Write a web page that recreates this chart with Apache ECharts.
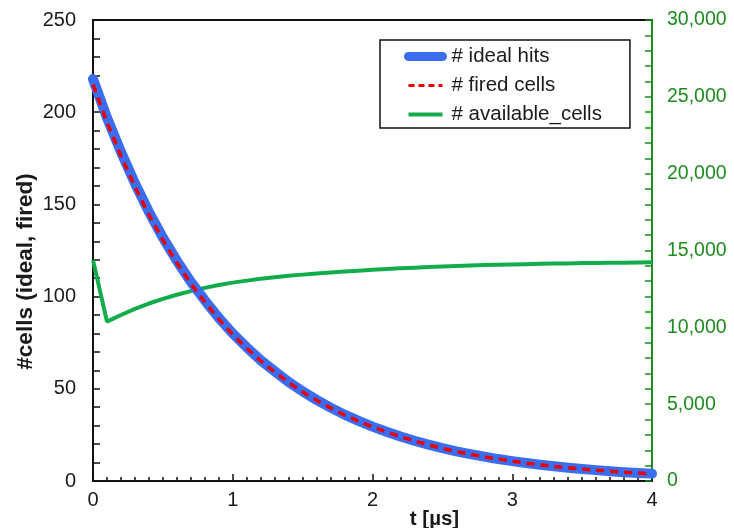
<!DOCTYPE html>
<html>
<head>
<meta charset="utf-8">
<script src="https://cdn.jsdelivr.net/npm/echarts@6/dist/echarts.min.js"></script>
<style>
  html, body { margin: 0; padding: 0; background: #ffffff; }
  #chart { width: 734px; height: 528px; }
</style>
</head>
<body>
<div id="chart"></div>
<script>
// Time axis in microseconds
const times = [0.0, 0.1, 0.2, 0.3, 0.4, 0.5, 0.6, 0.7, 0.8, 0.9,
               1.0, 1.1, 1.2, 1.3, 1.4, 1.5, 1.6, 1.7, 1.8, 1.9,
               2.0, 2.1, 2.2, 2.3, 2.4, 2.5, 2.6, 2.7, 2.8, 2.9,
               3.0, 3.1, 3.2, 3.3, 3.4, 3.5, 3.6, 3.7, 3.8, 3.9, 4.0];

// Number of ideal hits (left axis)
const idealHits = [218, 197, 178.5, 161.5, 146, 132, 119.5, 108, 98, 88.5,
                   80, 72.5, 65.5, 59.5, 53.7, 48.6, 44, 39.8, 36, 32.6,
                   29.5, 26.7, 24.1, 21.8, 19.7, 17.8, 16.1, 14.6, 13.2, 11.9,
                   10.8, 9.8, 8.8, 8.0, 7.2, 6.5, 5.9, 5.3, 4.8, 4.4, 4.0];

// Number of fired cells (left axis)
const firedCells = [215, 194.5, 176.3, 159.6, 144.4, 130.6, 118.3, 107, 97.1, 87.8,
                    79.4, 72, 65.1, 59.1, 53.4, 48.3, 43.8, 39.6, 35.8, 32.4,
                    29.4, 26.6, 24.0, 21.7, 19.6, 17.7, 16.0, 14.5, 13.1, 11.9,
                    10.8, 9.7, 8.8, 7.9, 7.2, 6.5, 5.9, 5.3, 4.8, 4.3, 3.9];

// Number of available cells (right axis)
const availableCells = [14380, 10370, 10800, 11200, 11550, 11850, 12120, 12360, 12570, 12750,
                        12910, 13040, 13160, 13260, 13350, 13430, 13500, 13570, 13630, 13690,
                        13740, 13790, 13840, 13880, 13920, 13960, 13990, 14020, 14050, 14070,
                        14090, 14110, 14130, 14150, 14160, 14180, 14190, 14200, 14210, 14220, 14230];

const seriesNames = ['# ideal hits', '# fired cells', '# available_cells'];
const xTicks = [0, 1, 2, 3, 4];

const pair = (vals) => times.map((t, i) => [t, vals[i]]);

const FONT = 'Liberation Sans, Arial, sans-serif';
const TEXT = '#1a1a1a';
const GREEN_AXIS = '#1e8c1e';
const BLUE = '#3a6df0';
const RED = '#ee0000';
const GREEN = '#12ad4a';

const chart = echarts.init(document.getElementById('chart'), null, { renderer: 'canvas' });

chart.setOption({
  animation: false,
  backgroundColor: '#ffffff',
  textStyle: { fontFamily: FONT },
  grid: {
    left: 93, right: 82, top: 20, bottom: 47,
    outerBoundsMode: 'none',
    containLabel: false,
    show: true, borderColor: '#111111', borderWidth: 2, backgroundColor: 'transparent'
  },
  legend: {
    orient: 'vertical',
    left: 380, top: 40,
    padding: [6, 28, 3, 24],
    itemGap: 8,
    itemWidth: 34, itemHeight: 12,
    borderColor: '#111111', borderWidth: 1.5,
    backgroundColor: '#ffffff',
    textStyle: { fontFamily: FONT, fontSize: 20.5, color: TEXT, padding: [0, 0, 0, 4] },
    data: [
      { name: seriesNames[0], itemStyle: { opacity: 0 }, lineStyle: { color: BLUE, width: 9, cap: 'round' } },
      { name: seriesNames[1], itemStyle: { opacity: 0 }, lineStyle: { color: RED, width: 3, type: [6, 4] } },
      { name: seriesNames[2], itemStyle: { opacity: 0 }, lineStyle: { color: GREEN, width: 4 } }
    ]
  },
  xAxis: {
    type: 'value',
    min: xTicks[0], max: xTicks[xTicks.length - 1], interval: 1,
    name: 't [µs]',
    nameLocation: 'middle',
    nameGap: 28,
    nameMoveOverlap: false,
    nameTextStyle: { fontFamily: FONT, fontSize: 20.5, fontWeight: 'bold', color: TEXT, padding: [0, 0, 0, 124] },
    axisLine: { show: true, lineStyle: { color: '#111111', width: 2 } },
    axisTick: { show: true, inside: true, length: 7, lineStyle: { color: '#111111', width: 1.5 } },
    minorTick: { show: true, splitNumber: 10, length: 4, lineStyle: { color: '#111111', width: 1.5 } },
    axisLabel: { fontFamily: FONT, fontSize: 20, color: TEXT, margin: 9 },
    splitLine: { show: false }
  },
  yAxis: [
    {
      type: 'value',
      min: 0, max: 250, interval: 50,
      position: 'left',
      name: '#cells (ideal, fired)',
      nameLocation: 'middle',
      nameGap: 56,
      nameMoveOverlap: false,
      nameRotate: 90,
      nameTextStyle: { fontFamily: FONT, fontSize: 22.5, fontWeight: 'bold', color: TEXT, padding: [0, 42, 0, 0] },
      axisLine: { show: true, lineStyle: { color: '#111111', width: 2 } },
      axisTick: { show: true, inside: true, length: 7, lineStyle: { color: '#111111', width: 1.5 } },
      minorTick: { show: true, splitNumber: 5, length: 7, lineStyle: { color: '#111111', width: 1.5 } },
      axisLabel: { fontFamily: FONT, fontSize: 20, color: TEXT, margin: 17 },
      splitLine: { show: false }
    },
    {
      type: 'value',
      min: 0, max: 30000, interval: 5000,
      position: 'right',
      axisLine: { show: true, lineStyle: { color: GREEN_AXIS, width: 2 } },
      axisTick: { show: true, inside: true, length: 7, lineStyle: { color: GREEN_AXIS, width: 1.5 } },
      minorTick: { show: true, splitNumber: 5, length: 7, lineStyle: { color: GREEN_AXIS, width: 1.5 } },
      axisLabel: {
        fontFamily: FONT, fontSize: 19.5, color: GREEN_AXIS, margin: 15,
        formatter: (v) => v.toLocaleString('en-US')
      },
      splitLine: { show: false }
    }
  ],
  series: [
    {
      name: seriesNames[0],
      type: 'line',
      yAxisIndex: 0,
      data: pair(idealHits),
      showSymbol: false, symbol: 'none',
      lineStyle: { color: BLUE, width: 10, cap: 'round', join: 'round' },
      itemStyle: { color: BLUE },
      z: 2
    },
    {
      name: seriesNames[1],
      type: 'line',
      yAxisIndex: 0,
      data: pair(firedCells),
      showSymbol: false, symbol: 'none',
      lineStyle: { color: RED, width: 3.5, type: [8, 6] },
      itemStyle: { color: RED },
      z: 3
    },
    {
      name: seriesNames[2],
      type: 'line',
      yAxisIndex: 1,
      data: pair(availableCells),
      showSymbol: false, symbol: 'none',
      lineStyle: { color: GREEN, width: 4 },
      itemStyle: { color: GREEN },
      z: 1
    }
  ]
});
</script>
</body>
</html>
